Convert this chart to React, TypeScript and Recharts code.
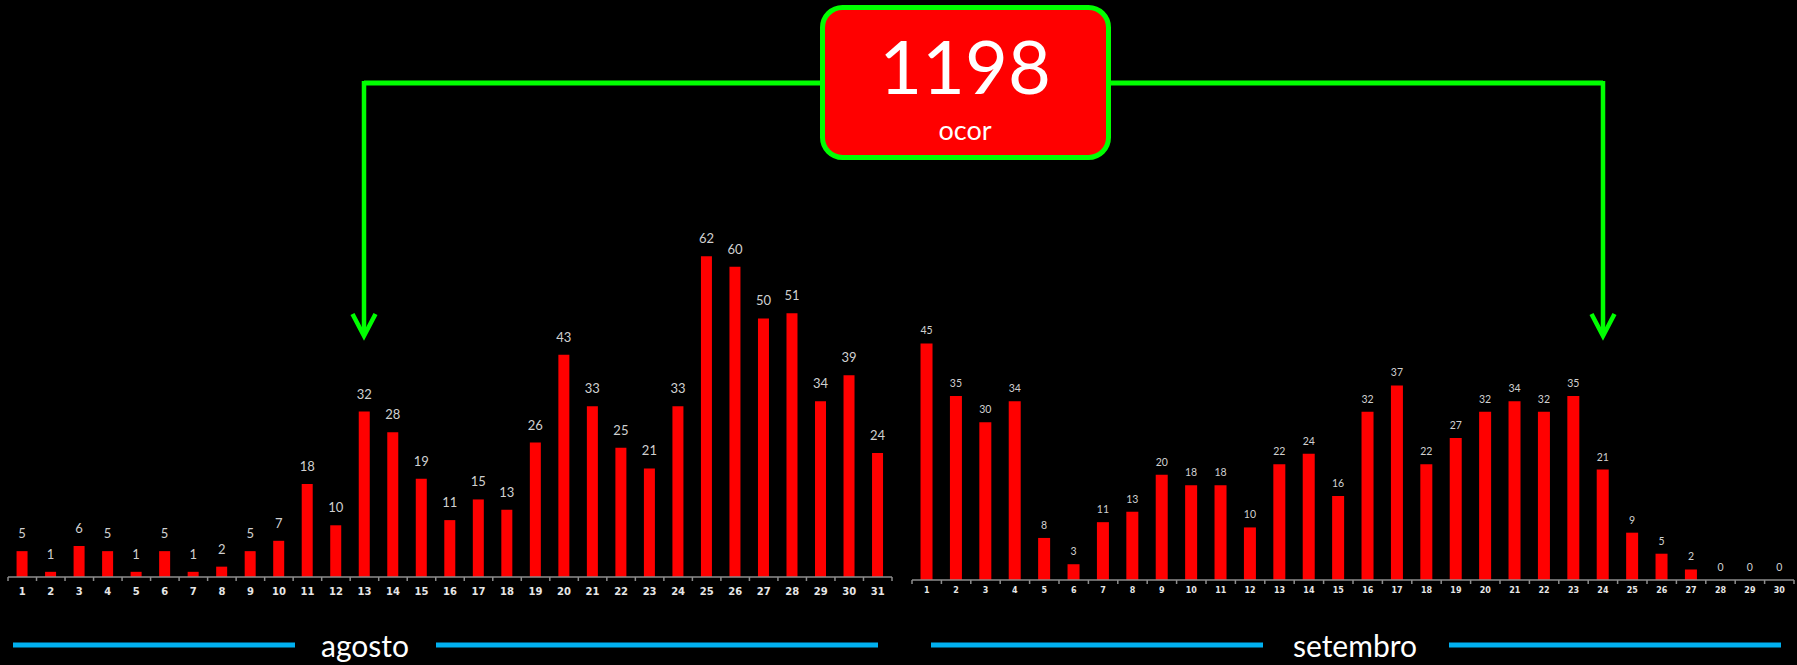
import { ComposedChart, Bar, Line, XAxis, YAxis, LabelList } from 'recharts'

const agostoDias = ['1', '2', '3', '4', '5', '6', '7', '8', '9', '10', '11', '12', '13', '14', '15', '16', '17', '18', '19', '20', '21', '22', '23', '24', '25', '26', '27', '28', '29', '30', '31']
const agostoOcor = [5, 1, 6, 5, 1, 5, 1, 2, 5, 7, 18, 10, 32, 28, 19, 11, 15, 13, 26, 43, 33, 25, 21, 33, 62, 60, 50, 51, 34, 39, 24]

const setembroDias = ['1', '2', '3', '4', '5', '6', '7', '8', '9', '10', '11', '12', '13', '14', '15', '16', '17', '18', '19', '20', '21', '22', '23', '24', '25', '26', '27', '28', '29', '30']
const setembroOcor = [45, 35, 30, 34, 8, 3, 11, 13, 20, 18, 18, 10, 22, 24, 16, 32, 37, 22, 27, 32, 34, 32, 35, 21, 9, 5, 2, 0, 0, 0]

const totalOcor = '1198'
const totalSub = 'ocor'
const meses = ['agosto', 'setembro']

const RED = '#ff0000'
const GREEN = '#00ff00'
const BLUE = '#00b0f0'
const FONT = 'Lato, "Open Sans", sans-serif'
const LABEL_GRAY = '#d0d0d0'

// dias com zero não têm barra, então o rótulo "0" vem de uma linha invisível
function toRows(dias: string[], ocor: number[]) {
  return dias.map((dia, i) => ({ dia, ocor: ocor[i], zero: ocor[i] === 0 ? 0 : null }))
}

// tick com marquinha entre as categorias (estilo Excel) e número no centro
function makeTick(band: number, total: number, fontSize: number, dy: number, color: string) {
  return (props: any) => {
    const { x, y, payload, index } = props
    return (
      <g>
        <line x1={x - band / 2} y1={y} x2={x - band / 2} y2={y + 4} stroke="#8c8c8c" strokeWidth={1.5} />
        {index === total - 1 && (
          <line x1={x + band / 2} y1={y} x2={x + band / 2} y2={y + 4} stroke="#8c8c8c" strokeWidth={1.5} />
        )}
        <text
          x={x}
          y={y + dy}
          textAnchor="middle"
          dominantBaseline="central"
          fontSize={fontSize}
          fontWeight="bold"
          fontFamily='"DejaVu Sans", sans-serif'
          fill={color}
        >
          {payload.value}
        </text>
      </g>
    )
  }
}

interface MonthChartProps {
  dias: string[]
  ocor: number[]
  width: number
  margin: { top: number; right: number; bottom: number; left: number }
  gap: string
  labelSize: number
  labelOffset: number
  tickSize: number
  tickDy: number
}

function MonthChart({ dias, ocor, width, margin, gap, labelSize, labelOffset, tickSize, tickDy }: MonthChartProps) {
  const band = (width - margin.left - margin.right) / dias.length
  const zeroLabel = (props: any) => {
    const { x, y, value } = props
    if (value !== 0) return null
    return (
      <text
        x={x}
        y={y - labelOffset}
        textAnchor="middle"
        fontSize={labelSize}
        fontFamily={FONT}
        fill={LABEL_GRAY}
      >
        0
      </text>
    )
  }
  return (
    <ComposedChart width={width} height={620} data={toRows(dias, ocor)} margin={margin} barCategoryGap={gap}>
      <XAxis
        dataKey="dia"
        height={30}
        interval={0}
        tickSize={0}
        tickMargin={0}
        axisLine={{ stroke: '#8c8c8c', strokeWidth: 1.5 }}
        tick={makeTick(band, dias.length, tickSize, tickDy, '#e6e6e6')}
      />
      <YAxis hide domain={[0, 70]} />
      <Bar dataKey="ocor" fill={RED} isAnimationActive={false}>
        <LabelList
          dataKey="ocor"
          position="top"
          offset={labelOffset}
          fill={LABEL_GRAY}
          fontSize={labelSize}
          fontFamily={FONT}
        />
      </Bar>
      <Line
        dataKey="zero"
        stroke="none"
        dot={false}
        activeDot={false}
        legendType="none"
        isAnimationActive={false}
      >
        <LabelList dataKey="zero" content={zeroLabel} />
      </Line>
    </ComposedChart>
  )
}

export default function App() {
  return (
    <div style={{ position: 'fixed', left: 0, top: 0, width: 1797, height: 665, background: '#000', overflow: 'hidden' }}>
      <div style={{ position: 'absolute', left: 0, top: 0 }}>
        <MonthChart
          dias={agostoDias}
          ocor={agostoOcor}
          width={900}
          margin={{ top: 215, right: 8, bottom: 13, left: 8 }}
          gap="30%"
          labelSize={13}
          labelOffset={13}
          tickSize={10}
          tickDy={14}
        />
      </div>
      <div style={{ position: 'absolute', left: 900, top: 0 }}>
        <MonthChart
          dias={setembroDias}
          ocor={setembroOcor}
          width={897}
          margin={{ top: 212, right: 3, bottom: 10, left: 12 }}
          gap="29%"
          labelSize={10.5}
          labelOffset={9}
          tickSize={8}
          tickDy={10}
        />
      </div>

      <svg width={1797} height={665} style={{ position: 'absolute', left: 0, top: 0, pointerEvents: 'none' }}>
        {/* conectores verdes */}
        <polyline points="364,83 820,83" stroke={GREEN} strokeWidth={5} fill="none" />
        <polyline points="364,81 364,335" stroke={GREEN} strokeWidth={4.5} fill="none" />
        <polyline points="352.5,314 364,336 375.5,314" stroke={GREEN} strokeWidth={4.5} fill="none" strokeLinejoin="miter" />
        <polyline points="1110,83 1603,83" stroke={GREEN} strokeWidth={5} fill="none" />
        <polyline points="1603,81 1603,335" stroke={GREEN} strokeWidth={4.5} fill="none" />
        <polyline points="1591.5,314 1603,336 1614.5,314" stroke={GREEN} strokeWidth={4.5} fill="none" strokeLinejoin="miter" />

        {/* caixa do total */}
        <rect x={822.5} y={7.5} width={286} height={150} rx={20} ry={20} fill={RED} stroke={GREEN} strokeWidth={5} />
        <text x={965} y={94} textAnchor="middle" fontSize={74} fontFamily={FONT} fill="#fff">
          {totalOcor}
        </text>
        <text x={965} y={140} textAnchor="middle" fontSize={27} fontFamily={FONT} fill="#fff">
          {totalSub}
        </text>

        {/* linhas azuis dos meses */}
        <line x1={13} y1={645} x2={295} y2={645} stroke={BLUE} strokeWidth={5} />
        <line x1={436} y1={645} x2={878} y2={645} stroke={BLUE} strokeWidth={5} />
        <text x={365} y={657} textAnchor="middle" fontSize={30} fontFamily={FONT} fill="#fff">
          {meses[0]}
        </text>
        <line x1={931} y1={645} x2={1263} y2={645} stroke={BLUE} strokeWidth={5} />
        <line x1={1449} y1={645} x2={1781} y2={645} stroke={BLUE} strokeWidth={5} />
        <text x={1355} y={657} textAnchor="middle" fontSize={30} fontFamily={FONT} fill="#fff">
          {meses[1]}
        </text>
      </svg>
    </div>
  )
}
